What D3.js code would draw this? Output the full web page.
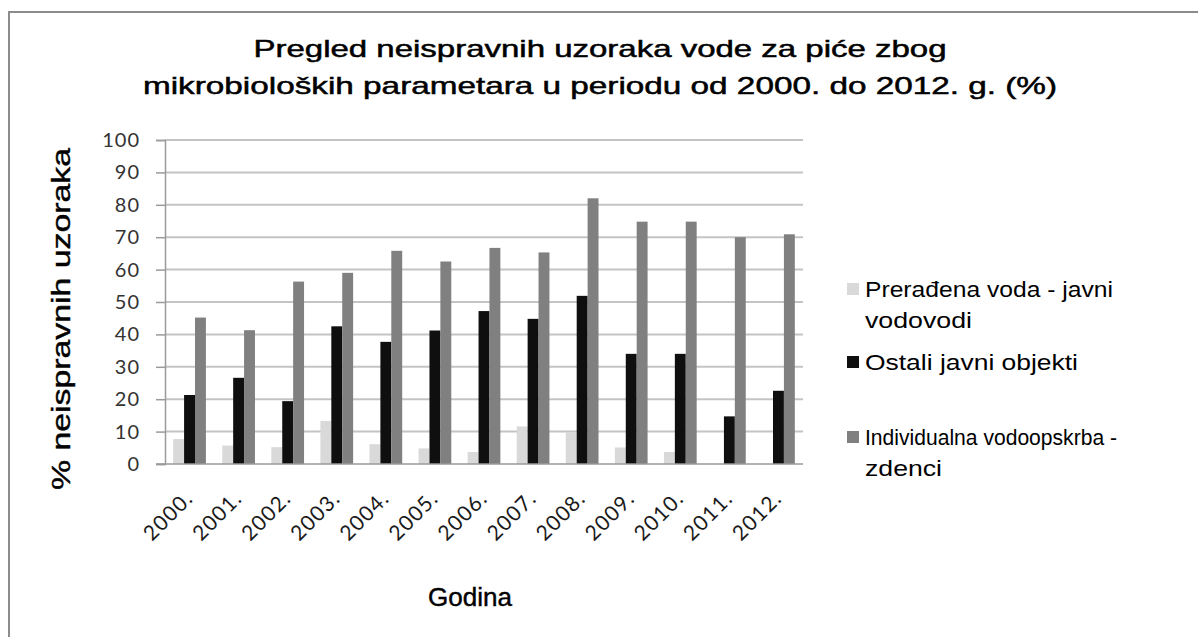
<!DOCTYPE html>
<html>
<head>
<meta charset="utf-8">
<script src="https://cdn.jsdelivr.net/npm/d3@7"></script>
<style>
  html, body { margin: 0; padding: 0; background: #fff; }
  svg { display: block; }
</style>
</head>
<body>
<svg id="chart" width="1198" height="637"></svg>
<script>
// Years on the category axis
const years = ["2000.", "2001.", "2002.", "2003.", "2004.", "2005.", "2006.",
               "2007.", "2008.", "2009.", "2010.", "2011.", "2012."];

// Share of non-compliant samples (%) per water source type
const preradjenaVoda = [7.7, 5.7, 5.2, 13.3, 6.1, 4.8, 3.7, 11.6, 9.8, 5.1, 3.7, 0, 0];
const ostaliObjekti  = [21.3, 26.6, 19.4, 42.5, 37.7, 41.2, 47.2, 44.8, 51.9, 34.0, 34.0, 14.7, 22.6];
const individualna   = [45.2, 41.3, 56.3, 59.0, 65.8, 62.5, 66.7, 65.3, 82.0, 74.8, 74.8, 70.0, 70.9];

const seriesNames = [
  ["Prerađena voda - javni", "vodovodi"],
  ["Ostali javni objekti"],
  ["Individualna vodoopskrba -", "zdenci"]
];
const yTicks = [0, 10, 20, 30, 40, 50, 60, 70, 80, 90, 100];

const seriesValues = [preradjenaVoda, ostaliObjekti, individualna];
const colors = ["#d9d9d9", "#0f0f0f", "#808080"];

const svg = d3.select("#chart");
const W = 1198, H = 637;
const sans = "'Liberation Sans', Arial, sans-serif";
const tickFont = "Lato, 'Open Sans', sans-serif";

// Outer chart frame
svg.append("rect")
  .attr("x", 9).attr("y", 12)
  .attr("width", W + 20).attr("height", H + 20)
  .attr("fill", "#fff").attr("stroke", "#8c8c8c").attr("stroke-width", 2);

const plot = { left: 165, right: 803, top: 140, bottom: 464 };

const x = d3.scaleBand()
  .domain(years)
  .range([plot.left, plot.right])
  .paddingInner(1.5 / 4.5)
  .paddingOuter(0.75 / 4.5);

const xSub = d3.scaleBand()
  .domain(d3.range(3))
  .range([0, x.bandwidth()]);

const y = d3.scaleLinear().domain([0, 100]).range([plot.bottom, plot.top]);

// Horizontal gridlines
svg.append("g")
  .selectAll("line")
  .data(yTicks.filter(t => t > 0))
  .join("line")
  .attr("x1", plot.left).attr("x2", plot.right)
  .attr("y1", d => y(d)).attr("y2", d => y(d))
  .attr("stroke", "#c4c4c4").attr("stroke-width", 2);

// Y axis with outward ticks
const yAxis = svg.append("g")
  .attr("transform", `translate(${plot.left},0)`)
  .call(d3.axisLeft(y).tickValues(yTicks).tickSize(9).tickPadding(16));
yAxis.select(".domain").attr("stroke", "#9a9a9a").attr("stroke-width", 1.5);
yAxis.selectAll(".tick line").attr("stroke", "#9a9a9a").attr("stroke-width", 1.5);
yAxis.selectAll(".tick text")
  .attr("font-family", tickFont)
  .attr("font-size", 20).attr("letter-spacing", 1).attr("fill", "#333");

// Bars
const groups = svg.append("g")
  .selectAll("g")
  .data(years)
  .join("g")
  .attr("transform", d => `translate(${x(d)},0)`);

groups.selectAll("rect")
  .data((d, i) => seriesValues.map((vals, s) => ({ s, v: vals[i] })))
  .join("rect")
  .attr("x", d => xSub(d.s))
  .attr("width", xSub.bandwidth())
  .attr("y", d => y(d.v))
  .attr("height", d => y(0) - y(d.v))
  .attr("fill", d => colors[d.s]);

// X axis baseline
svg.append("line")
  .attr("x1", plot.left - 9).attr("x2", plot.right)
  .attr("y1", plot.bottom).attr("y2", plot.bottom)
  .attr("stroke", "#9a9a9a").attr("stroke-width", 1.5);

// Rotated year labels
svg.append("g")
  .selectAll("text")
  .data(years)
  .join("text")
  .attr("transform", d => `translate(${x(d) + x.bandwidth() / 2 + 1},${plot.bottom + 32}) rotate(-45)`)
  .attr("text-anchor", "end")
  .attr("dominant-baseline", "middle")
  .attr("font-family", tickFont)
  .attr("font-size", 21).attr("letter-spacing", 1.2).attr("fill", "#1a1a1a")
  .text(d => d);

// Title (wide letterforms, stretched to the given line widths)
const titleLines = [
  { text: "Pregled neispravnih uzoraka vode za piće zbog", y: 57, len: 693 },
  { text: "mikrobioloških parametara u periodu od 2000. do 2012. g. (%)", y: 94, len: 914 }
];
svg.append("g")
  .selectAll("text")
  .data(titleLines)
  .join("text")
  .attr("x", 600).attr("y", d => d.y)
  .attr("text-anchor", "middle")
  .attr("font-family", sans)
  .attr("font-size", 24).attr("fill", "#000")
  .attr("stroke", "#000").attr("stroke-width", 0.5)
  .attr("textLength", d => d.len).attr("lengthAdjust", "spacingAndGlyphs")
  .text(d => d.text);

// Axis titles
svg.append("text")
  .attr("transform", `translate(70,319) rotate(-90)`)
  .attr("text-anchor", "middle")
  .attr("font-family", sans)
  .attr("font-size", 25).attr("fill", "#000")
  .attr("stroke", "#000").attr("stroke-width", 0.4)
  .attr("textLength", 342).attr("lengthAdjust", "spacingAndGlyphs")
  .text("% neispravnih uzoraka");

svg.append("text")
  .attr("x", 470).attr("y", 606)
  .attr("text-anchor", "middle")
  .attr("font-family", sans)
  .attr("font-size", 25).attr("fill", "#000")
  .attr("stroke", "#000").attr("stroke-width", 0.4)
  .attr("textLength", 84).attr("lengthAdjust", "spacingAndGlyphs")
  .text("Godina");

// Legend
const legendTop = [289, 362, 437];
const legendWidths = [[248, 107], [213], [252, 77]];
const legend = svg.append("g")
  .selectAll("g")
  .data(seriesNames)
  .join("g")
  .attr("transform", (d, i) => `translate(847,${legendTop[i]})`);

legend.append("rect")
  .attr("x", 0).attr("y", -6).attr("width", 12).attr("height", 12)
  .attr("fill", (d, i) => colors[i]);

legend.each(function (lines, i) {
  d3.select(this).selectAll("text")
    .data(lines)
    .join("text")
    .attr("x", 18)
    .attr("y", (d, j) => 8 + j * 31)
    .attr("font-family", sans)
    .attr("font-size", 22).attr("fill", "#000")
    .attr("textLength", (d, j) => legendWidths[i][j])
    .attr("lengthAdjust", "spacingAndGlyphs")
    .text(d => d);
});
</script>
</body>
</html>
